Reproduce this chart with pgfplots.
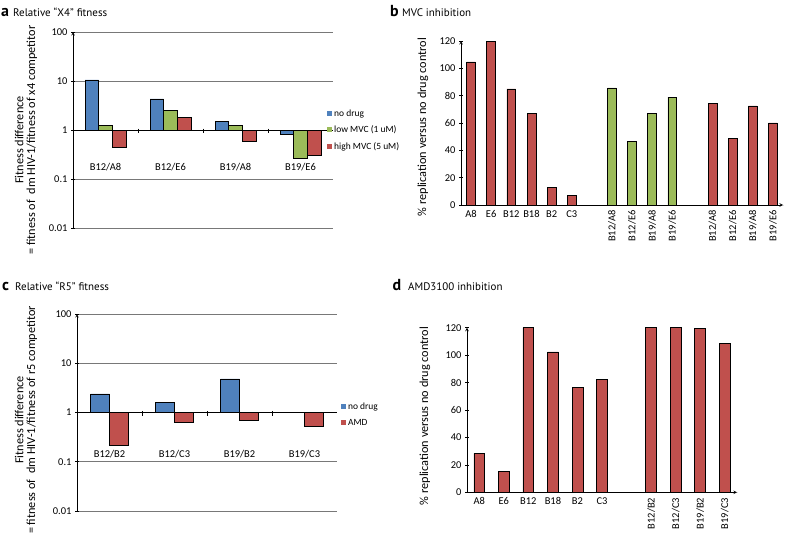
\documentclass[border=0pt]{standalone}
\usepackage{pgfplots}
\pgfplotsset{compat=1.18}
\usepackage{fontspec}
\setmainfont{Carlito}
\newfontfamily\titlefont{PT Sans}
\definecolor{xblue}{RGB}{79,129,189}
\definecolor{xgreen}{RGB}{155,187,89}
\definecolor{xred}{RGB}{192,80,77}
\definecolor{gridc}{RGB}{120,120,120}
\newcommand{\tickfont}{\fontsize{10.5}{12}\selectfont}
\newcommand{\labfont}{\fontsize{12.3}{15}\selectfont}
\pgfplotsset{
  common/.style={
    scale only axis,
    anchor=north west,
    /pgf/number format/assume math mode=true,
    tick label style={font=\tickfont, black},
    tick align=outside,
    major tick length=4bp,
    tick style={black, line width=0.6pt},
    axis line style={black, line width=0.6pt, -},
    every axis plot/.append style={draw=black, line width=0.6pt},
  },
  logpanel/.style={
    common,
    ymin=0.01, ymax=100,
    ytick={0.01,0.1,1,10,100},
    yticklabels={0.01,0.1,1,10,100},
    yminorticks=false,
    axis x line=none,
    axis y line=left,
    ymajorgrids,
    grid style={gridc, line width=0.6pt},
    xmin=-0.5, xmax=3.5,
    xtick=\empty,
    legend style={draw=none, fill=none, font=\fontsize{9.5}{11}\selectfont, anchor=north west, legend cell align=left, row sep=4bp, inner sep=0pt},
    legend image code/.code={\fill[##1, draw=none] (0bp,-2.5bp) rectangle (5bp,2.5bp);},
  },
  linpanel/.style={
    common,
    axis lines=left,
    ymin=0, ymax=120, ytick={0,20,...,120},
    xtick style={draw=none},
    extra x tick style={xticklabel style={rotate=90, anchor=east}},
  },
}
\begin{document}
\begin{tikzpicture}
\useasboundingbox (0,0) rectangle (785bp,-542bp);
% titles
\node[anchor=base west, inner sep=0pt] at (1bp,-16bp) {\titlefont\fontsize{16}{16}\selectfont\bfseries a};
\node[anchor=base west, inner sep=0pt] at (13bp,-16bp) {\titlefont\fontsize{11}{13}\selectfont Relative “X4” fitness};
\node[anchor=base west, inner sep=0pt] at (390bp,-16bp) {\titlefont\fontsize{16}{16}\selectfont\bfseries b};
\node[anchor=base west, inner sep=0pt] at (402bp,-16bp) {\titlefont\fontsize{11}{13}\selectfont MVC inhibition};
\node[anchor=base west, inner sep=0pt] at (2bp,-290.7bp) {\titlefont\fontsize{16}{16}\selectfont\bfseries c};
\node[anchor=base west, inner sep=0pt] at (15bp,-290.7bp) {\titlefont\fontsize{11}{13}\selectfont Relative “R5” fitness};
\node[anchor=base west, inner sep=0pt] at (392.5bp,-290.7bp) {\titlefont\fontsize{16}{16}\selectfont\bfseries d};
\node[anchor=base west, inner sep=0pt] at (408bp,-290.7bp) {\titlefont\fontsize{11}{13}\selectfont AMD3100 inhibition};
% y labels
\node[rotate=90, align=center, inner sep=0pt] at (26bp,-140bp) {\labfont Fitness difference\\\labfont = fitness of\ \ dm HIV-1/fitness of x4 competitor};
\node[rotate=90, align=center, inner sep=0pt] at (26bp,-420bp) {\labfont Fitness difference\\\labfont = fitness of\ \ dm HIV-1/fitness of r5 competitor};
\node[rotate=90, inner sep=0pt] at (423bp,-127bp) {\labfont \% replication versus no drug control};
\node[rotate=90, inner sep=0pt] at (425bp,-416bp) {\labfont \% replication versus no drug control};

% panel a
\begin{axis}[ymode=log, log origin=0, ybar=0pt, logpanel, at={(73bp,-32bp)}, width=260bp, height=196bp, bar width=0.21,
  legend style={at={(0.977,0.615)}}]
\addplot[fill=xblue] coordinates {(0,10.5) (1,4.3) (2,1.5) (3,0.82)};
\addplot[fill=xgreen] coordinates {(0,1.22) (1,2.5) (2,1.25) (3,0.27)};
\addplot[fill=xred] coordinates {(0,0.45) (1,1.78) (2,0.58) (3,0.30)};
\legend{no drug, low MVC (1 uM), high MVC (5 uM)}
\draw[black, line width=0.6pt] (axis cs:-0.5,1) -- (axis cs:3.5,1);
\pgfplotsinvokeforeach{0.5,1.5,2.5}{\draw[black, line width=0.6pt] (axis cs:#1,1) ++(0bp,1.5bp) -- ++(0bp,-4.5bp);}
\node[font=\tickfont] at (axis cs:0,1) [yshift=-37bp] {B12/A8};
\node[font=\tickfont] at (axis cs:1,1) [yshift=-37bp] {B12/E6};
\node[font=\tickfont] at (axis cs:2,1) [yshift=-37bp] {B19/A8};
\node[font=\tickfont] at (axis cs:3,1) [yshift=-37bp] {B19/E6};
\end{axis}

% panel b
\begin{axis}[ybar, bar shift=0pt, linpanel, at={(461bp,-41bp)}, width=322bp, height=164bp, bar width=0.44,
  xmin=-0.5, xmax=15.5,
  xtick={0,...,5}, xticklabels={A8,E6,B12,B18,B2,C3},
  extra x ticks={7,8,9,10,12,13,14,15},
  extra x tick labels={B12/A8,B12/E6,B19/A8,B19/E6,B12/A8,B12/E6,B19/A8,B19/E6}]
\addplot[fill=xred] coordinates {(0,104.7) (1,120) (2,85) (3,67) (4,12.9) (5,6.8)};
\addplot[fill=xgreen] coordinates {(7,85.7) (8,46.5) (9,67.2) (10,79)};
\addplot[fill=xred] coordinates {(12,74.2) (13,48.9) (14,72.5) (15,60.1)};
\pgfplotsinvokeforeach{0.5,1.5,...,15.5}{\draw[black, line width=0.6pt] (axis cs:#1,0) -- ++(0bp,-4bp);}
\end{axis}

% panel c
\begin{axis}[ymode=log, log origin=0, ybar=0pt, logpanel, at={(77bp,-314bp)}, width=260bp, height=197bp, bar width=0.29,
  legend style={at={(1.015,0.56)}}]
\addplot[fill=xblue] coordinates {(0,2.39) (1,1.62) (2,4.81) (3,1.02)};
\addplot[fill=xred] coordinates {(0,0.214) (1,0.64) (2,0.69) (3,0.52)};
\legend{no drug, AMD}
\draw[black, line width=0.6pt] (axis cs:-0.5,1) -- (axis cs:3.5,1);
\pgfplotsinvokeforeach{0.5,1.5,2.5}{\draw[black, line width=0.6pt] (axis cs:#1,1) ++(0bp,1.5bp) -- ++(0bp,-4.5bp);}
\node[font=\tickfont] at (axis cs:0,1) [yshift=-42bp] {B12/B2};
\node[font=\tickfont] at (axis cs:1,1) [yshift=-42bp] {B12/C3};
\node[font=\tickfont] at (axis cs:2,1) [yshift=-42bp] {B19/B2};
\node[font=\tickfont] at (axis cs:3,1) [yshift=-42bp] {B19/C3};
\end{axis}

% panel d
\begin{axis}[ybar, bar shift=0pt, linpanel, at={(467bp,-327.7bp)}, width=270bp, height=164.6bp, bar width=0.44,
  xmin=-0.5, xmax=10.5,
  xtick={0,...,5}, xticklabels={A8,E6,B12,B18,B2,C3},
  extra x ticks={7,8,9,10},
  extra x tick labels={B12/B2,B12/C3,B19/B2,B19/C3}]
\addplot[fill=xred] coordinates {(0,28.4) (1,15.3) (2,120) (3,102.3) (4,76.5) (5,82.3)};
\addplot[fill=xred] coordinates {(7,120) (8,120) (9,119.5) (10,108.8)};
\pgfplotsinvokeforeach{0.5,1.5,...,10.5}{\draw[black, line width=0.6pt] (axis cs:#1,0) -- ++(0bp,-4bp);}
\end{axis}
\end{tikzpicture}
\end{document}
